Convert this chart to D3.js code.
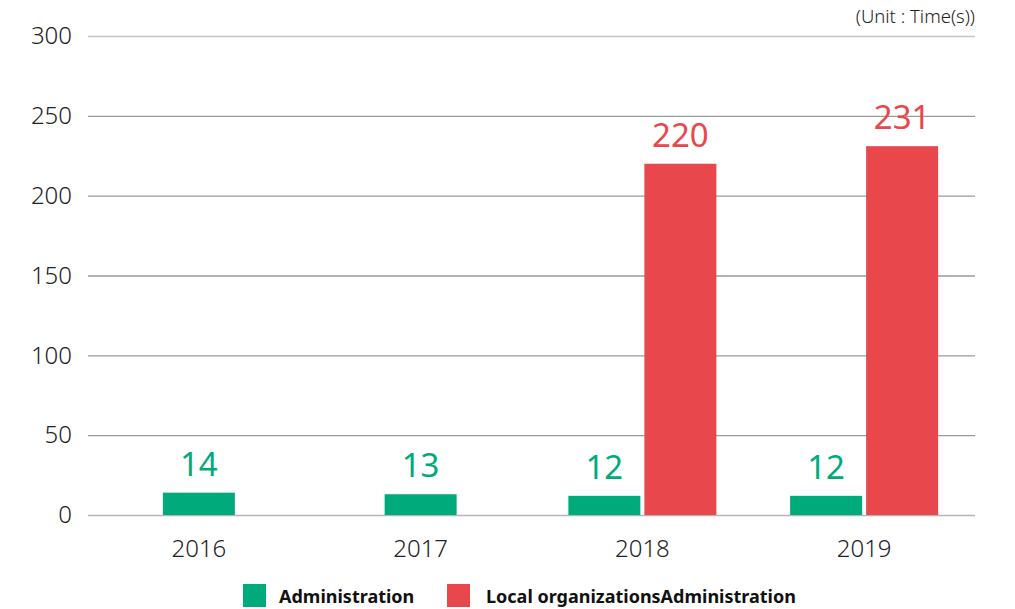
<!DOCTYPE html>
<html><head><meta charset="utf-8">
<script src="https://cdn.jsdelivr.net/npm/d3@7"></script>
<style>body{margin:0;background:#fff;}svg{display:block;font-family:"Noto Sans","Open Sans",sans-serif;}</style>
</head><body>
<svg id="c" width="1015" height="609"></svg>
<script>
const categories = ["2016","2017","2018","2019"];
const seriesNames = ["Administration","Local organizationsAdministration"];
const administration = [14,13,12,12];
const localOrgs = [null,null,220,231];
const yTicks = [0,50,100,150,200,250,300];
const colors = ["#00aa7b","#e8474b"];

const svg = d3.select("#c");
const x = d3.scaleBand().domain(categories).range([88,975]);
const y = d3.scaleLinear().domain([0,300]).range([515,36]);
const barW = 72, gap = 4;

// grid
svg.append("g").selectAll("line").data(yTicks).join("line")
  .attr("x1",88).attr("x2",975).attr("y1",d=>y(d)+0.5).attr("y2",d=>y(d)+0.5)
  .attr("stroke",d=>d===300?"#c4c4c4":(d===0?"#b5b5b5":"#9a9a9a")).attr("stroke-width",1.3);

const yAxis = d3.axisLeft(y).tickValues(yTicks).tickSize(0).tickPadding(0);
const ya = svg.append("g").attr("transform","translate(72,0)").call(yAxis);
ya.select(".domain").remove();
ya.selectAll("text").attr("font-size",24).attr("font-weight",300).attr("fill","#222").attr("font-family",'"Noto Sans","Open Sans",sans-serif');

const xAxis = d3.axisBottom(x).tickSize(0).tickPadding(0);
const xa = svg.append("g").attr("transform","translate(0,540)").call(xAxis);
xa.select(".domain").remove();
xa.selectAll("text").attr("font-size",24).attr("font-weight",300).attr("fill","#222").attr("font-family",'"Noto Sans","Open Sans",sans-serif');

const data = [];
categories.forEach((c,i)=>{
  const vals = [administration[i], localOrgs[i]];
  const present = vals.map((v,k)=>({v,k})).filter(d=>d.v!=null);
  const total = present.length*barW + (present.length-1)*gap;
  const start = x(c)+x.bandwidth()/2 - total/2;
  present.forEach((d,j)=>data.push({cat:c, v:d.v, k:d.k, x0:start+j*(barW+gap)}));
});

svg.append("g").selectAll("rect").data(data).join("rect")
  .attr("x",d=>d.x0).attr("width",barW)
  .attr("y",d=>y(d.v)).attr("height",d=>y(0)-y(d.v))
  .attr("fill",d=>colors[d.k]);

svg.append("g").selectAll("text").data(data).join("text")
  .attr("x",d=>d.x0+barW/2).attr("y",d=>y(d.v)-17)
  .attr("text-anchor","middle").attr("font-size",33).attr("font-weight",400)
  .attr("fill",d=>colors[d.k]).text(d=>d.v);

svg.append("text").attr("x",975).attr("y",23).attr("text-anchor","end")
  .attr("font-size",18.5).attr("font-weight",300).attr("fill","#222").text("(Unit : Time(s))");

// legend
const legX = [243,447];
const lg = svg.append("g").selectAll("g").data(seriesNames).join("g")
  .attr("transform",(d,i)=>`translate(${legX[i]},584)`);
lg.append("rect").attr("width",23).attr("height",23).attr("fill",(d,i)=>colors[i]);
lg.append("text").attr("x",d=>d===seriesNames[0]?36:39).attr("y",19).attr("font-size",18).attr("font-weight",700)
  .attr("fill","#111").text(d=>d);
</script>
</body></html>
